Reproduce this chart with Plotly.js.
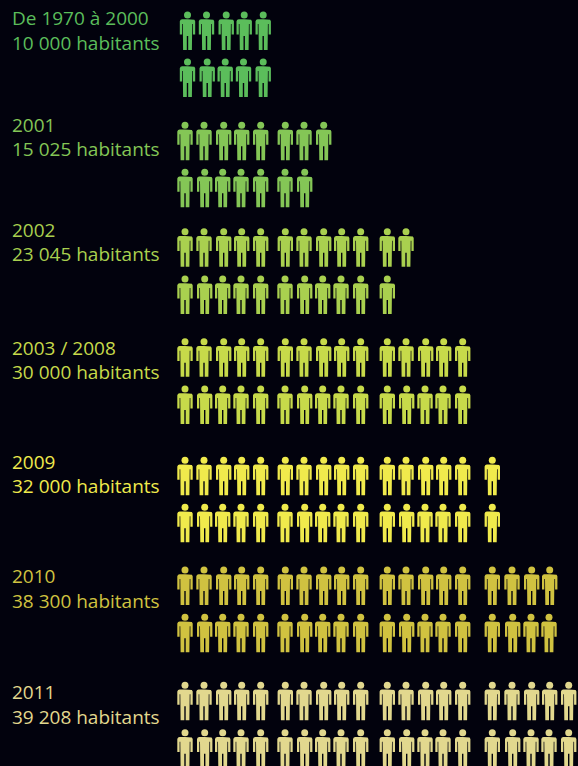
<!DOCTYPE html>
<html><head><meta charset="utf-8">
<script src="https://cdn.plot.ly/plotly-3.0.1.min.js"></script>
<style>html,body{margin:0;padding:0;background:#02020d}</style></head>
<body><div id="chart" style="width:578px;height:766px"></div>
<script>
// DATA: one pictogram = 1000-ish inhabitants, two rows per period
const periods = ["De 1970 à 2000","2001","2002","2003 / 2008","2009","2010","2011"];
const populationLabels = ["10 000 habitants","15 025 habitants","23 045 habitants","30 000 habitants","32 000 habitants","38 300 habitants","39 208 habitants"];
const topRowCounts = [5,8,12,15,16,19,20];
const bottomRowCounts = [5,7,11,15,16,19,20];

// PRESENTATION
const colors = ["#5bbd5b","#84c656","#a9d04f","#c7da4a","#f0ea4c","#d0c240","#e2d88e"];
const topHeadY = [15,125.3,231.7,341.7,460.3,570,685.3];
const bottomHeadY = [62,172.3,279,389,507.3,617.3,732.7];
const shiftX = [2.5,0,0,0,0,0,0];
const label1Y = [18,125,230,348,462,576,692];
const label2Y = [43,149,254,372,486,601,717];
const colTop = [185,204,223.7,241.7,260.7,285.3,304,323.7,341.7,360.7,387.3,406,425.7,443.7,462.7,492.3,512,531.7,549.7,568.7];
const colBottom = [185,204.7,222.7,241,260.7,285,304.7,322.7,341,360.7,387.3,406.7,425,443,462.7,492.3,512.7,531,549,568.7];

// Pictogram outline relative to head centre (right half, mirrored)
const half = [[0,4.2],[5.4,4.2],[6.9,4.7],[7.7,6.2],[7.7,19.4],[5.4,19.4],[5.4,9],[4.7,9],[4.4,35],[0.7,35],[0.7,21],[0,21]];
const outline = half.concat(half.slice().reverse().map(p=>[-p[0],p[1]]));
const headSize = 7;

const traces = [];
periods.forEach((p,i)=>{
  const bodyX=[], bodyY=[], headX=[], headY=[];
  const addRow=(cols,n,y0)=>{
    for(let k=0;k<n;k++){
      const cx=cols[k]+shiftX[i];
      outline.forEach(q=>{bodyX.push(cx+q[0]);bodyY.push(y0+q[1]);});
      bodyX.push(null);bodyY.push(null);
      headX.push(cx);headY.push(y0);
    }
  };
  addRow(colTop,topRowCounts[i],topHeadY[i]);
  addRow(colBottom,bottomRowCounts[i],bottomHeadY[i]);
  traces.push({type:"scatter",mode:"lines",x:bodyX,y:bodyY,fill:"toself",fillcolor:colors[i],
    line:{width:0,color:colors[i]},hoverinfo:"skip",showlegend:false,name:p});
  traces.push({type:"scatter",mode:"markers",x:headX,y:headY,
    marker:{size:headSize,color:colors[i],line:{width:0}},hoverinfo:"skip",showlegend:false});
});

const annotations=[];
const F='"Open Sans","Noto Sans",sans-serif';
periods.forEach((p,i)=>{
  annotations.push({xref:"x",yref:"y",x:10,y:label1Y[i],text:p,showarrow:false,xanchor:"left",yanchor:"middle",
    font:{family:F,size:19,color:colors[i]}});
  annotations.push({xref:"x",yref:"y",x:10,y:label2Y[i],text:populationLabels[i],showarrow:false,xanchor:"left",yanchor:"middle",
    font:{family:F,size:19,color:colors[i]}});
});

Plotly.newPlot("chart",traces,{
  width:578,height:766,margin:{l:0,r:0,t:0,b:0},
  paper_bgcolor:"#02020d",plot_bgcolor:"#02020d",
  xaxis:{range:[0,578],visible:false,fixedrange:true},
  yaxis:{range:[766,0],visible:false,fixedrange:true},
  annotations,showlegend:false
},{staticPlot:true,displayModeBar:false});
</script></body></html>
